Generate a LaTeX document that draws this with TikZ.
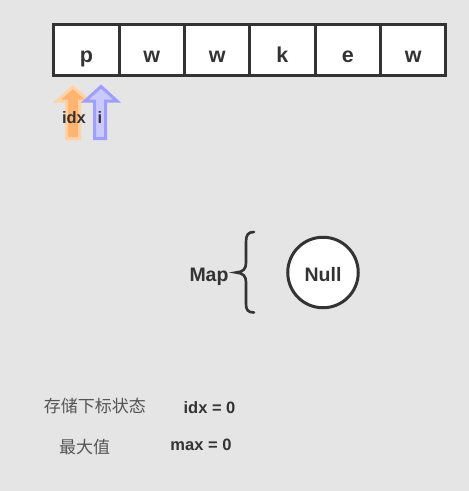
\documentclass[tikz,border=0pt]{standalone}
\usepackage{fontspec}
\setmainfont{Liberation Sans}
\newfontfamily\cjk{Noto Sans CJK SC}
\definecolor{bg}{HTML}{E5E5E5}
\definecolor{ink}{HTML}{333333}
\definecolor{gray5}{HTML}{555555}
\definecolor{orfill}{HTML}{FFB570}
\definecolor{orline}{HTML}{FFD2A6}
\definecolor{blfill}{HTML}{CACAFF}
\definecolor{blline}{HTML}{9E9EFF}
\begin{document}
\begin{tikzpicture}[x=1pt,y=-1pt,
  cell/.style={draw=ink,fill=white,line width=3pt,outer sep=0pt,minimum width=65.33pt,minimum height=51pt,inner sep=0pt,text height=28pt,text depth=4pt,font=\bfseries\fontsize{21.5}{21.5}\selectfont,text=ink},
  lbl/.style={anchor=base,inner sep=0pt,font=\bfseries\fontsize{16.5}{16.5}\selectfont,text=ink},
  big/.style={anchor=base,inner sep=0pt,font=\bfseries\fontsize{19.5}{19.5}\selectfont,text=ink},
  cjklbl/.style={anchor=base,inner sep=0pt,font=\cjk\fontsize{17}{17}\selectfont,text=gray5}]
\fill[bg] (0,0) rectangle (469,491);
\useasboundingbox (0,0) rectangle (469,491);
% cells
\node[cell] (c1) at (86.47,50.3) {p};
\node[cell] (c2) at (151.8,50.3) {w};
\node[cell] (c3) at (217.13,50.3) {w};
\node[cell] (c4) at (282.47,50.3) {k};
\node[cell] (c5) at (347.8,50.3) {e};
\node[cell] (c6) at (413.13,50.3) {w};
% arrows
\draw[draw=orline,fill=orfill,line width=3pt,line join=miter]
  (73,87) -- (89,101) -- (79.5,101) -- (79.5,138.5) -- (66.5,138.5) -- (66.5,101) -- (57,101) -- cycle;
\draw[draw=blline,fill=blfill,line width=3pt,line join=miter]
  (101,86.5) -- (117,101) -- (105.5,101) -- (105.5,138.5) -- (94.5,138.5) -- (94.5,101) -- (85,101) -- cycle;
\node[lbl] (idx) at (74,123.3) {idx};
\node[lbl] (i) at (100,123.3) {i};
% map
\node[big] (map) at (209,281.7) {Map};
\draw[ink,line width=2.6pt,line cap=round]
  (254,232) .. controls (248,232) and (246,235) .. (246,242)
  -- (246,263) .. controls (246,269) and (243,272) .. (236,272.5)
  .. controls (243,273) and (246,276) .. (246,282)
  -- (246,304) .. controls (246,310) and (248,312.5) .. (254,312.5);
\node[circle,draw=ink,fill=white,line width=3pt,minimum size=70.5pt,inner sep=0pt] (null) at (323,272.5) {};
\node[big] (nulltxt) at (323,281.7) {Null};
% bottom
\node[cjklbl] (s1) at (95,412.5) {存储下标状态};
\node[lbl] (v1) at (209.5,413.3) {idx = 0};
\node[cjklbl] (s2) at (84.7,453.5) {最大值};
\node[lbl] (v2) at (201,450) {max = 0};
\end{tikzpicture}
\end{document}
